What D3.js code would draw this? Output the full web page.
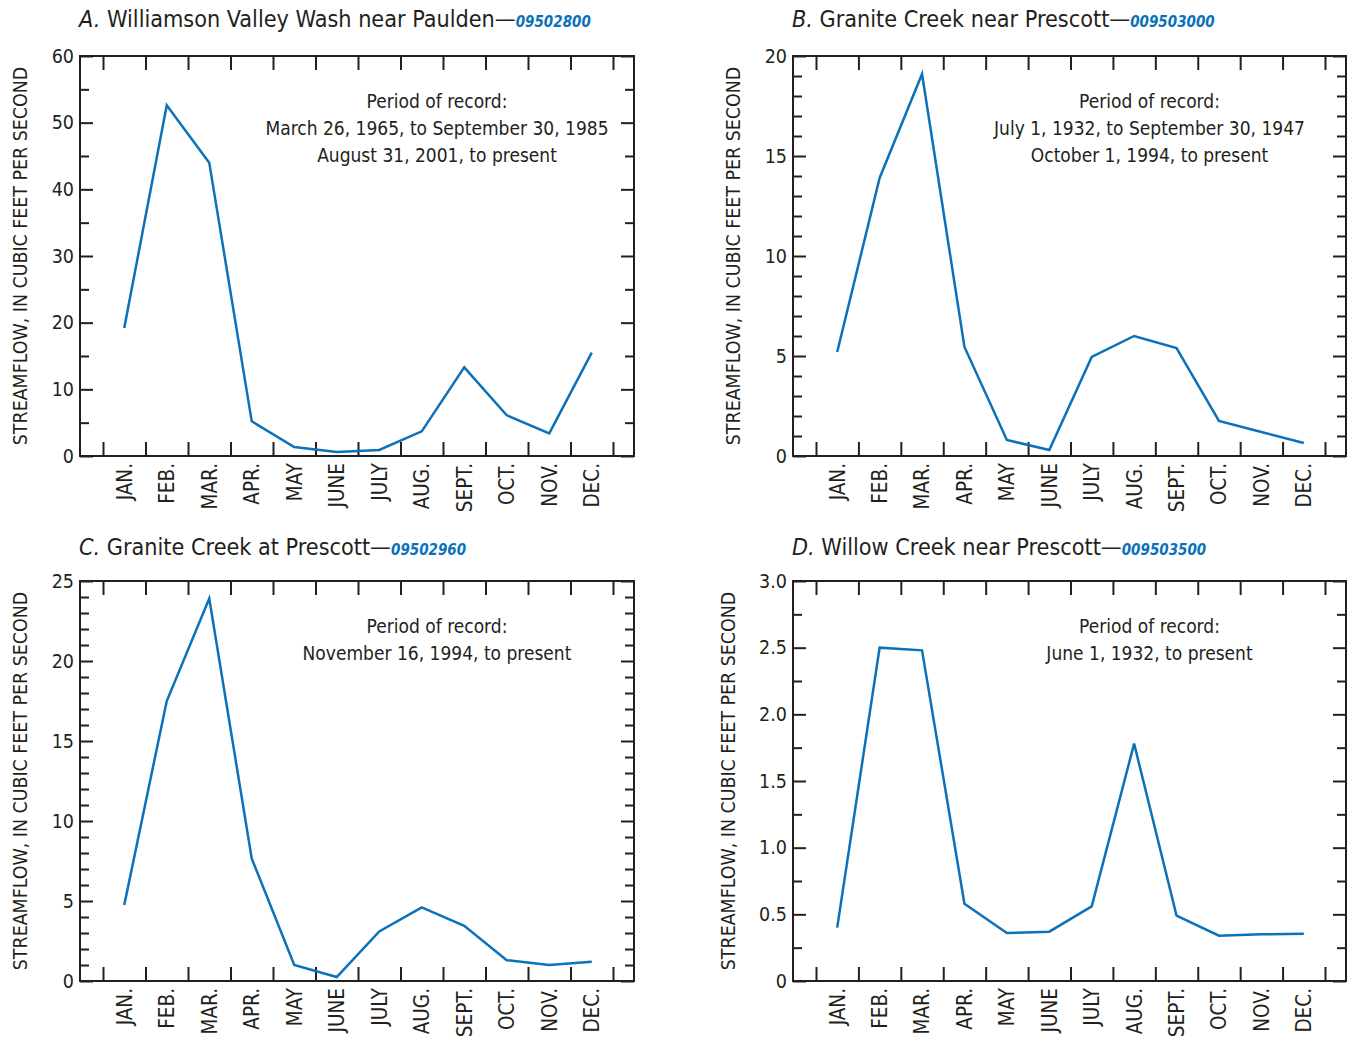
<!DOCTYPE html>
<html>
<head>
<meta charset="utf-8">
<script src="https://cdn.jsdelivr.net/npm/d3@7"></script>
<style>
  html, body { margin: 0; padding: 0; background: #fff; }
  svg text { font-family: "Liberation Sans Narrow", "DejaVu Sans Condensed", "Roboto Condensed", "Arial Narrow", sans-serif; fill: #231f20; }
</style>
</head>
<body>
<svg id="chart" width="1348" height="1038"></svg>
<script>
// Month labels along the x axis
const months = ["JAN.", "FEB.", "MAR.", "APR.", "MAY", "JUNE", "JULY", "AUG.", "SEPT.", "OCT.", "NOV.", "DEC."];

// Mean monthly streamflow, cubic feet per second
const williamsonFlow = [19.2, 52.6, 44.0, 5.2, 1.35, 0.6, 0.9, 3.7, 13.3, 6.1, 3.4, 15.5];
const graniteNearFlow = [5.2, 13.9, 19.1, 5.45, 0.8, 0.3, 4.95, 6.0, 5.4, 1.75, 1.2, 0.65];
const graniteAtFlow = [4.75, 17.5, 23.9, 7.65, 1.0, 0.25, 3.1, 4.6, 3.45, 1.3, 1.0, 1.2];
const willowFlow = [0.40, 2.50, 2.48, 0.58, 0.36, 0.37, 0.56, 1.78, 0.49, 0.34, 0.35, 0.355];

// Panel titles and station numbers
const panelLetters = ["A.", "B.", "C.", "D."];
const panelNames = [
  "Williamson Valley Wash near Paulden\u2014",
  "Granite Creek near Prescott\u2014",
  "Granite Creek at Prescott\u2014",
  "Willow Creek near Prescott\u2014"
];
const stationIds = ["09502800", "009503000", "09502960", "009503500"];

// Period-of-record notes
const recordNotes = [
  ["Period of record:", "March 26, 1965, to September 30, 1985", "August 31, 2001, to present"],
  ["Period of record:", "July 1, 1932, to September 30, 1947", "October 1, 1994, to present"],
  ["Period of record:", "November 16, 1994, to present"],
  ["Period of record:", "June 1, 1932, to present"]
];

// Y axis scales: max, labelled ticks, minor ticks
const yMax = [60, 20, 25, 3.0];
const yMajorTicks = [
  [0, 10, 20, 30, 40, 50, 60],
  [0, 5, 10, 15, 20],
  [0, 5, 10, 15, 20, 25],
  [0, 0.5, 1.0, 1.5, 2.0, 2.5, 3.0]
];
const yMinorTicks = [
  [5, 15, 25, 35, 45, 55],
  [1, 2, 3, 4, 6, 7, 8, 9, 11, 12, 13, 14, 16, 17, 18, 19],
  [1, 2, 3, 4, 6, 7, 8, 9, 11, 12, 13, 14, 16, 17, 18, 19, 21, 22, 23, 24],
  [0.25, 0.75, 1.25, 1.75, 2.25, 2.75]
];
const yTickFormats = [d3.format("d"), d3.format("d"), d3.format("d"), d => d === 0 ? "0" : d3.format(".1f")(d)];

const flows = [williamsonFlow, graniteNearFlow, graniteAtFlow, willowFlow];

const svg = d3.select("#chart");
const ink = "#231f20";
const blue = "#0b71b9";

// Plot frames for the 2x2 grid
const frames = [
  {left: 80, right: 634, top: 56, bottom: 456, titleY: 27, labelX: 20},
  {left: 793, right: 1346, top: 56, bottom: 456, titleY: 27, labelX: 733},
  {left: 80, right: 634, top: 581, bottom: 981, titleY: 555, labelX: 20},
  {left: 793, right: 1346, top: 581, bottom: 981, titleY: 555, labelX: 728}
];

frames.forEach((f, i) => {
  const g = svg.append("g");
  const x = d3.scaleBand().domain(months).range([f.left + 23, f.right - 21]);
  const xEdge = d3.scaleLinear().domain([0, 12]).range(x.range());
  const y = d3.scaleLinear().domain([0, yMax[i]]).range([f.bottom, f.top]);

  const style = sel => {
    sel.select(".domain").remove();
    sel.selectAll(".tick line").attr("stroke", ink).attr("stroke-width", 2);
  };

  // Minor y ticks, both sides, inward
  g.append("g").attr("transform", `translate(${f.left},0)`)
    .call(d3.axisLeft(y).tickValues(yMinorTicks[i]).tickSize(-9).tickFormat(""))
    .call(style);
  g.append("g").attr("transform", `translate(${f.right},0)`)
    .call(d3.axisRight(y).tickValues(yMinorTicks[i]).tickSize(-9).tickFormat(""))
    .call(style);
  // Major y ticks with labels
  g.append("g").attr("transform", `translate(${f.left},0)`)
    .call(d3.axisLeft(y).tickValues(yMajorTicks[i]).tickSize(-13).tickPadding(6).tickFormat(yTickFormats[i]))
    .call(style)
    .call(a => a.selectAll(".tick text").attr("font-size", 19.5).attr("fill", ink)
      .style("font-family", null));
  g.append("g").attr("transform", `translate(${f.right},0)`)
    .call(d3.axisRight(y).tickValues(yMajorTicks[i]).tickSize(-13).tickFormat(""))
    .call(style);

  // Month boundary ticks, top and bottom
  g.append("g").attr("transform", `translate(0,${f.top})`)
    .call(d3.axisTop(xEdge).tickValues(d3.range(13)).tickSize(-14).tickFormat(""))
    .call(style);
  g.append("g").attr("transform", `translate(0,${f.bottom})`)
    .call(d3.axisBottom(xEdge).tickValues(d3.range(13)).tickSize(-14).tickFormat(""))
    .call(style);

  // Month labels, rotated
  g.append("g").attr("transform", `translate(0,${f.bottom})`)
    .call(d3.axisBottom(x).tickSize(0).tickFormat(d => d))
    .call(a => a.select(".domain").remove())
    .call(a => a.selectAll(".tick text")
      .attr("transform", "rotate(-90)")
      .attr("x", -7).attr("y", 0).attr("dy", "0.36em")
      .attr("text-anchor", "end")
      .attr("font-size", 20.5).attr("fill", ink));

  // Frame
  g.append("rect")
    .attr("x", f.left).attr("y", f.top)
    .attr("width", f.right - f.left).attr("height", f.bottom - f.top)
    .attr("fill", "none").attr("stroke", ink).attr("stroke-width", 2);

  // Streamflow line
  const line = d3.line()
    .x((d, k) => x(months[k]) + x.bandwidth() / 2)
    .y(d => y(d));
  g.append("path").datum(flows[i])
    .attr("d", line)
    .attr("fill", "none").attr("stroke", blue).attr("stroke-width", 2.5)
    .attr("stroke-linejoin", "miter");

  // Y axis title
  const midY = (f.top + f.bottom) / 2;
  g.append("text")
    .attr("transform", `translate(${f.labelX},${midY}) rotate(-90)`)
    .attr("text-anchor", "middle")
    .attr("dy", "0.36em")
    .attr("font-size", 19.4)
    .text("STREAMFLOW, IN CUBIC FEET PER SECOND");

  // Panel title
  const t = g.append("text")
    .attr("x", f.left - 1).attr("y", f.titleY)
    .attr("font-size", 23.2);
  t.append("tspan").attr("font-style", "italic").text(panelLetters[i]);
  t.append("tspan").text(" " + panelNames[i]);
  t.append("tspan").attr("font-style", "italic").attr("font-weight", "bold")
    .attr("font-size", 15).style("fill", blue).text(stationIds[i]);

  // Period of record note
  const cx = (f.left + f.right) / 2 + 80;
  recordNotes[i].forEach((s, k) => {
    g.append("text")
      .attr("x", cx).attr("y", f.top + 52 + k * 27)
      .attr("text-anchor", "middle")
      .attr("font-size", 19)
      .text(s);
  });
});
</script>
</body>
</html>
